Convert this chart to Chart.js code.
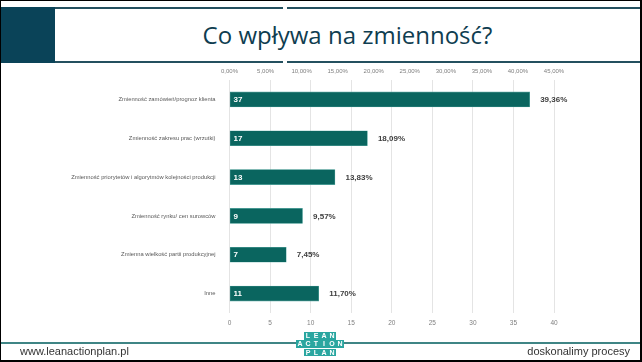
<!DOCTYPE html>
<html>
<head>
<meta charset="utf-8">
<script src="https://cdn.jsdelivr.net/npm/chart.js@4.4.0/dist/chart.umd.min.js"></script>
<style>
  html, body { margin:0; padding:0; background:#fff; }
  body { width:642px; height:362px; position:relative; overflow:hidden; font-family:"Liberation Sans", Arial, sans-serif; }
  .frame { position:absolute; left:0; top:0; width:639px; height:359px; border-top:1px solid #000; border-left:1px solid #000; border-right:2px solid #000; border-bottom:2px solid #000; }
  .block { position:absolute; left:0; top:7px; width:55px; height:56px; background:#0a4358; }
  .ln { position:absolute; height:2px; background:#24505f; }
  .title { position:absolute; left:55px; width:585px; top:14px; height:42px; line-height:42px; text-align:center; font-family:"Open Sans", sans-serif; font-size:24px; color:#0f3d50; }
  #wrap { position:absolute; left:0; top:62px; width:642px; height:276px; }
  .fline { position:absolute; left:0; top:342px; width:640px; height:2px; background:#3f8585; }
  .ftxt { position:absolute; top:344px; font-size:11px; color:#333; line-height:14px; }
  .row { position:absolute; display:flex; }
  .row span { width:7.4px; height:7.8px; margin:0 0.3px; background:#2aa6a0; color:#fff; font-size:7px; font-weight:bold; line-height:8px; text-align:center; display:block; }
</style>
</head>
<body>
<div class="block"></div>
<div class="ln" style="left:55px; top:7px; width:228px;"></div>
<div class="ln" style="left:287px; top:7px; width:353px;"></div>
<div class="ln" style="left:55px; top:61px; width:228px;"></div>
<div class="ln" style="left:287px; top:61px; width:353px;"></div>
<div class="title">Co wpływa na zmienność?</div>
<div id="wrap"><canvas id="c"></canvas></div>
<div class="fline"></div>
<div class="ftxt" style="left:20px;">www.leanactionplan.pl</div>
<div class="ftxt" style="right:12px;">doskonalimy procesy</div>
<div class="row" style="left:304px; top:332px;"><span>L</span><span>E</span><span>A</span><span>N</span></div>
<div class="row" style="left:296px; top:340.3px;"><span>A</span><span>C</span><span>T</span><span>I</span><span>O</span><span>N</span></div>
<div class="row" style="left:304px; top:348.6px;"><span>P</span><span>L</span><span>A</span><span>N</span></div>
<div class="frame"></div>
<script>
const categories = [
  "Zmienność zamówień/prognoz klienta",
  "Zmienność zakresu prac (wrzutki)",
  "Zmienność priorytetów i algorytmów kolejności produkcji",
  "Zmienność rynku/ cen surowców",
  "Zmienna wielkość partii produkcyjnej",
  "Inne"
];
const counts = [37, 17, 13, 9, 7, 11];
const percents = [39.36, 18.09, 13.83, 9.57, 7.45, 11.70];
const countTicksMax = 40;
const percentTicksMax = 45;

const fmtPct = v => v.toFixed(2).replace('.', ',') + '%';

const labelPlugin = {
  id: 'barLabels',
  afterDatasetsDraw(chart) {
    const ctx = chart.ctx;
    const meta = chart.getDatasetMeta(0);
    ctx.save();
    ctx.textBaseline = 'middle';
    meta.data.forEach((bar, i) => {
      ctx.font = 'bold 8px "Liberation Sans", Arial, sans-serif';
      ctx.fillStyle = '#ffffff';
      ctx.textAlign = 'left';
      ctx.fillText(String(counts[i]), bar.base + 3.5, bar.y + 0.5);
      ctx.fillStyle = '#404040';
      ctx.fillText(fmtPct(percents[i]), bar.x + 10.5, bar.y + 0.5);
    });
    ctx.restore();
  }
};

new Chart(document.getElementById('c'), {
  type: 'bar',
  data: {
    labels: categories,
    datasets: [{
      data: counts,
      backgroundColor: '#0a655f',
      borderColor: '#5aa9a2',
      borderWidth: 0.6,
      borderSkipped: false,
      barThickness: 15,
      xAxisID: 'x',
      yAxisID: 'y'
    }]
  },
  options: {
    indexAxis: 'y',
    responsive: true,
    maintainAspectRatio: false,
    animation: false,
    layout: { padding: { left: 0, right: 88, top: 0, bottom: 0 } },
    plugins: { legend: { display: false }, tooltip: { enabled: false } },
    scales: {
      y: {
        type: 'category',
        position: 'left',
        grid: { display: false },
        border: { display: false },
        ticks: { color: '#595959', font: { size: 5.8, family: '"Liberation Sans", Arial, sans-serif' }, padding: 6 },
        afterFit(s) { s.width = 229.5; }
      },
      x: {
        type: 'linear',
        position: 'bottom',
        min: 0,
        max: countTicksMax,
        grid: { color: '#e4e4e4', drawTicks: false, lineWidth: 1 },
        border: { display: false },
        ticks: { stepSize: 5, color: '#7f7f7f', font: { size: 6.5, family: '"Liberation Sans", Arial, sans-serif' }, padding: 6 },
        afterFit(s) { s.height = 25; }
      },
      x2: {
        type: 'linear',
        position: 'top',
        min: 0,
        max: percentTicksMax,
        grid: { display: false, drawTicks: false },
        border: { display: false },
        ticks: { stepSize: 5, color: '#7f7f7f', font: { size: 6, family: '"Liberation Sans", Arial, sans-serif' }, padding: 5, callback: v => fmtPct(v) },
        afterFit(s) { s.height = 18; }
      }
    }
  },
  plugins: [labelPlugin]
});
</script>
</body>
</html>
